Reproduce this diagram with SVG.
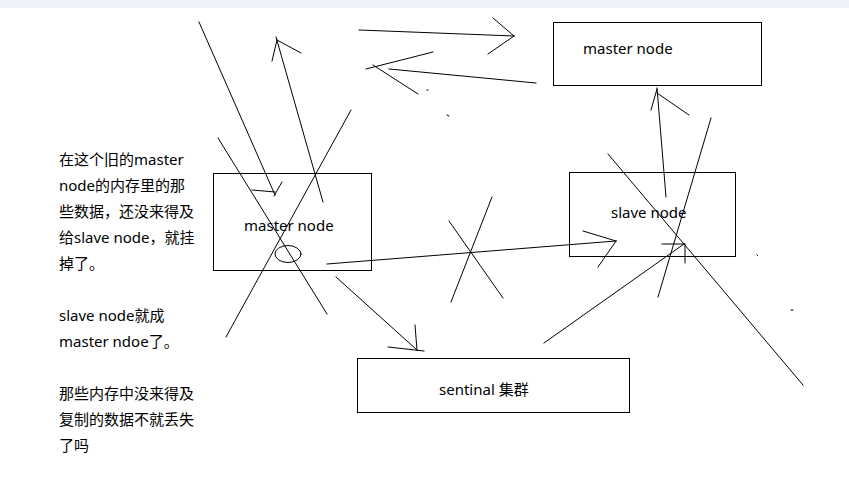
<svg xmlns="http://www.w3.org/2000/svg" width="849" height="479" viewBox="0 0 849 479">
<style>
.box{fill:#fff;stroke:#000;stroke-width:1}
.ln{stroke:#000;stroke-width:1;fill:none;stroke-linecap:square}
.t{font-family:"Noto Sans","Noto Sans CJK SC",sans-serif;font-size:15px;fill:#000}
</style>
<rect x="0" y="0" width="849" height="479" fill="#fff"/>
<rect x="0" y="0" width="849" height="8" fill="#eef2fb"/>
<g id="node-master-top">
<rect class="box" x="553.5" y="22.5" width="208" height="63"/>
<text class="t" x="583" y="54">master node</text>
</g>
<g id="node-master-old">
<rect class="box" x="213.5" y="173.5" width="158" height="97"/>
<text class="t" x="244" y="231">master node</text>
<ellipse class="ln" cx="288" cy="254" rx="13" ry="8.5"/>
</g>
<g id="node-slave">
<rect class="box" x="569.5" y="172.5" width="166" height="84"/>
<text class="t" x="611" y="218">slave node</text>
</g>
<g id="node-sentinal">
<rect class="box" x="357.5" y="358.5" width="272" height="54"/>
<text class="t" x="439" y="395">sentinal 集群</text>
</g>
<g id="connectors" class="ln">
<line x1="199" y1="22" x2="275" y2="195"/>
<line x1="252" y1="190" x2="275" y2="192"/>
<line x1="282" y1="182" x2="274" y2="196"/>
<line x1="218" y1="138" x2="327" y2="314"/>
<line x1="323" y1="202" x2="276" y2="37"/>
<line x1="277" y1="40" x2="301" y2="53"/>
<line x1="277" y1="40" x2="272" y2="61"/>
<line x1="351" y1="110" x2="226" y2="337"/>
<line x1="359" y1="30" x2="514" y2="36"/>
<line x1="493" y1="18" x2="514" y2="36"/>
<line x1="514" y1="36" x2="488" y2="54"/>
<line x1="389" y1="69" x2="536" y2="83"/>
<line x1="366" y1="69" x2="433" y2="52"/>
<line x1="373" y1="65" x2="418" y2="94"/>
<line x1="427" y1="90" x2="428" y2="90"/>
<line x1="447" y1="115" x2="449" y2="116"/>
<line x1="666" y1="197" x2="657" y2="88"/>
<line x1="657" y1="89" x2="651" y2="110"/>
<line x1="657" y1="93" x2="689" y2="115"/>
<line x1="711" y1="118" x2="658" y2="297"/>
<line x1="608" y1="154" x2="803" y2="385"/>
<line x1="544" y1="343" x2="684" y2="244"/>
<line x1="662" y1="244" x2="684" y2="244"/>
<line x1="685" y1="244" x2="685" y2="263"/>
<line x1="327" y1="264" x2="616" y2="241"/>
<line x1="583" y1="231" x2="616" y2="241"/>
<line x1="616" y1="241" x2="598" y2="267"/>
<line x1="492" y1="197" x2="451" y2="302"/>
<line x1="449" y1="221" x2="503" y2="298"/>
<line x1="336" y1="277" x2="417" y2="350"/>
<line x1="415" y1="325" x2="417" y2="350"/>
<line x1="388" y1="347" x2="424" y2="351"/>
<line x1="757" y1="255" x2="757.5" y2="255.5"/>
<line x1="791" y1="310" x2="793" y2="310"/>
</g>
<g id="note">
<text class="t" x="59" y="164.5">在这个旧的master</text>
<text class="t" x="59" y="190.5">node的内存里的那</text>
<text class="t" x="59" y="216.5">些数据，还没来得及</text>
<text class="t" x="59" y="242.5">给slave node，就挂</text>
<text class="t" x="59" y="268.5">掉了。</text>
<text class="t" x="59" y="320.5">slave node就成</text>
<text class="t" x="59" y="346.5">master ndoe了。</text>
<text class="t" x="59" y="398.5">那些内存中没来得及</text>
<text class="t" x="59" y="424.5">复制的数据不就丢失</text>
<text class="t" x="59" y="450.5">了吗</text>
</g>
</svg>
